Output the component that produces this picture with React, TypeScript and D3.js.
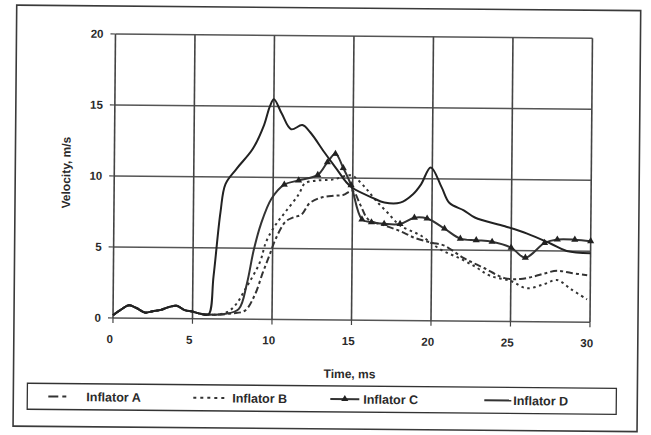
import React from "react";
import * as d3 from "d3";

// Time (ms) and velocity (m/s) samples
type Pt = [number, number];

// Pre-deployment noise shared by all four inflators
const earlyPhase: Pt[] = [
  [0, 0.2], [0.5, 0.6], [1, 0.9], [1.5, 0.7], [2, 0.4], [2.5, 0.5], [3, 0.6],
  [3.5, 0.8], [4, 0.9], [4.5, 0.6], [5, 0.5], [5.5, 0.35], [6, 0.3],
];

const inflatorA: Pt[] = [
  [6.5, 0.3], [7.5, 0.4], [8.3, 0.6], [8.9, 1.7], [9.4, 3.3], [9.8, 4.5], [10.2, 5.7],
  [10.8, 6.9], [11.3, 7.2], [11.8, 7.4], [12.3, 8.2], [13, 8.6], [13.8, 8.75],
  [14.4, 8.8], [15, 9.1], [15.5, 8.1], [16, 7.1], [17, 6.7], [18, 6.3], [19, 5.8],
  [20, 5.5], [20.8, 5.3], [22, 4.45], [23.3, 3.75], [24.6, 3.05], [25.6, 3.0],
  [26.5, 3.2], [27.1, 3.4], [27.9, 3.6], [28.8, 3.45], [29.8, 3.3],
];

const inflatorB: Pt[] = [
  [6.5, 0.3], [7.2, 0.5], [7.7, 1.0], [8.3, 2.1], [9.2, 4.0], [9.6, 5.5], [10.2, 6.7],
  [10.8, 7.6], [11.6, 8.8], [12, 9.6], [12.7, 9.8], [13.8, 9.9], [14.9, 10.2],
  [15.3, 9.9], [15.9, 9.2], [16.5, 8.4], [17.2, 7.6], [18, 6.7], [19.3, 6.0],
  [20.6, 5.0], [21.8, 4.4], [22.8, 3.8], [23.7, 3.2], [25, 2.85], [26, 2.35],
  [27.1, 2.65], [27.9, 2.95], [28.8, 2.3], [29.8, 1.6],
];

const inflatorC: Pt[] = [
  [7, 0.35], [7.9, 0.7], [8.4, 2.5], [8.8, 4.8], [9.25, 6.7], [9.9, 8.5], [10.7, 9.5],
  [11.6, 9.8], [12.8, 10.2], [13.4, 11.1], [13.9, 11.7], [14.4, 10.7], [14.9, 9.5],
  [15.6, 7.1], [16.2, 6.9], [17, 6.8], [18, 6.8], [18.9, 7.25], [19.7, 7.2],
  [20.8, 6.5], [21.8, 5.8], [22.8, 5.7], [23.8, 5.6], [25, 5.2], [25.9, 4.5],
  [27.1, 5.55], [27.9, 5.8], [29, 5.8], [30, 5.7],
];

const inflatorD: Pt[] = [
  [6.3, 3.0], [6.7, 7.5], [7.0, 9.5], [7.7, 10.6], [8.7, 12.0], [9.4, 13.7],
  [9.75, 15.0], [10, 15.5], [10.5, 14.5], [11.1, 13.4], [11.8, 13.7], [12.3, 13.2],
  [13.2, 11.8], [14, 10.6], [14.6, 9.7], [15, 9.3], [16.3, 8.6], [17, 8.3], [18, 8.3],
  [18.8, 8.9], [19.3, 9.6], [19.9, 10.8], [20.6, 9.4], [21.1, 8.3], [22, 7.8],
  [22.7, 7.3], [24.6, 6.7], [26, 6.2], [27.5, 5.5], [28.5, 5.0], [30, 4.85],
];

const xTicks = [0, 5, 10, 15, 20, 25, 30];
const yTicks = [0, 5, 10, 15, 20];
const seriesNames = ["Inflator A", "Inflator B", "Inflator C", "Inflator D"];

const W = 651;
const H = 435;
const INK = "#2a2a2a";
const FONT = "'Liberation Sans', Arial, sans-serif";

export default function App() {
  const x = d3.scaleLinear().domain([0, 30]).range([113, 590]);
  const y = d3.scaleLinear().domain([0, 20]).range([318, 34]);

  const line = d3
    .line<Pt>()
    .x((d) => x(d[0]))
    .y((d) => y(d[1]))
    .curve(d3.curveCatmullRom.alpha(0.5));

  const withEarly = (s: Pt[]) => [...earlyPhase, ...s];

  const series = [
    { name: seriesNames[0], data: withEarly(inflatorA), dash: "7,3,3,3", marker: false },
    { name: seriesNames[1], data: withEarly(inflatorB), dash: "2.5,3.5", marker: false },
    { name: seriesNames[2], data: withEarly(inflatorC), dash: null, marker: true },
    { name: seriesNames[3], data: withEarly(inflatorD), dash: null, marker: false },
  ];

  const tri = d3.symbol().type(d3.symbolTriangle).size(22)();

  // legend sample start/end and label position
  const legendItems = [
    { s0: 49, s1: 67, tx: 87, legendDash: "10,4,4,40", ...series[0] },
    { s0: 194, s1: 229, tx: 233, legendDash: "3,4", ...series[1] },
    { s0: 331, s1: 360, tx: 364, legendDash: null, ...series[2] },
    { s0: 485, s1: 512, tx: 514, legendDash: null, ...series[3] },
  ];

  return (
    <svg
      width={W}
      height={H}
      style={{ position: "absolute", left: 0, top: 0, background: "#fff" }}
      fontFamily={FONT}
    >
      <g transform={`rotate(0.5, ${x(0)}, ${y(0)})`}>
        {/* outer frame */}
        <rect x={14} y={6} width={624} height={421} fill="none" stroke="#3a3a3a" strokeWidth={1.6} />

        {/* gridlines */}
        {yTicks.map((t) => (
          <line key={"gy" + t} x1={x(0)} x2={x(30)} y1={y(t)} y2={y(t)} stroke="#555" strokeWidth={1.5} />
        ))}
        {xTicks.map((t) => (
          <line key={"gx" + t} x1={x(t)} x2={x(t)} y1={y(0)} y2={y(20)} stroke="#444" strokeWidth={1.6} />
        ))}
        {/* tick marks */}
        {yTicks.map((t) => (
          <line key={"ty" + t} x1={x(0) - 5} x2={x(0)} y1={y(t)} y2={y(t)} stroke="#444" strokeWidth={1.2} />
        ))}
        {xTicks.map((t) => (
          <line key={"tx" + t} x1={x(t)} x2={x(t)} y1={y(0)} y2={y(0) + 5} stroke="#444" strokeWidth={1.2} />
        ))}

        {/* tick labels */}
        {yTicks.map((t) => (
          <text key={"ly" + t} x={x(0) - 12} y={y(t)} dy="0.35em" textAnchor="end" fontSize={11.5} fontWeight="bold" fill={INK}>
            {t}
          </text>
        ))}
        {xTicks.map((t) => (
          <text key={"lx" + t} x={x(t) - 3} y={y(0) + 25} textAnchor="middle" fontSize={11.5} fontWeight="bold" fill={INK}>
            {t}
          </text>
        ))}

        {/* axis titles */}
        <text x={350} y={376} textAnchor="middle" fontSize={12} fontWeight="bold" fill={INK}>
          Time, ms
        </text>
        <text
          transform={`translate(69, 173) rotate(-90)`}
          textAnchor="middle"
          fontSize={12}
          fontWeight="bold"
          fill={INK}
        >
          Velocity, m/s
        </text>

        {/* series */}
        {series.map((s) => (
          <path
            key={s.name}
            d={line(s.data) ?? ""}
            fill="none"
            stroke={s.name === "Inflator D" ? "#222" : "#333"}
            strokeWidth={2}
            strokeDasharray={s.dash ?? undefined}
            strokeLinejoin="round"
          />
        ))}
        {series
          .filter((s) => s.marker)
          .map((s) =>
            s.data
              .filter((d) => d[0] >= 10.5)
              .map((d, i) => (
                <path key={s.name + i} d={tri ?? ""} transform={`translate(${x(d[0])},${y(d[1])})`} fill="#222" />
              ))
          )}

        {/* legend */}
        <rect x={28} y={384} width={589} height={26} fill="#fff" stroke="#333" strokeWidth={1.3} />
        {legendItems.map((it) => (
          <g key={"lg" + it.name}>
            <line
              x1={it.s0}
              x2={it.s1}
              y1={397}
              y2={397}
              stroke="#333"
              strokeWidth={2}
              strokeDasharray={it.legendDash ?? undefined}
            />
            {it.marker && <path d={tri ?? ""} transform={`translate(${(it.s0 + it.s1) / 2},397)`} fill="#222" />}
            <text x={it.tx} y={397} dy="0.36em" fontSize={12.5} fontWeight="bold" fill={INK}>
              {it.name}
            </text>
          </g>
        ))}
      </g>
    </svg>
  );
}
